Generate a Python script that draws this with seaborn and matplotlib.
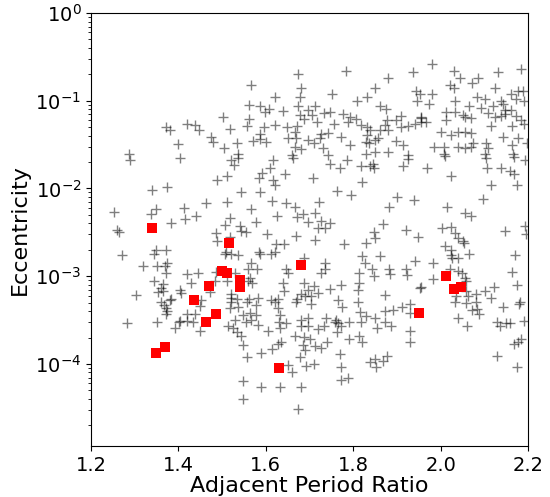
import matplotlib
matplotlib.use("Agg")
import matplotlib.pyplot as plt
import seaborn as sns

# ---- gray crosses: adjacent period ratio / eccentricity ----
gray_ratio = [
    1.371, 1.381, 1.419, 1.437, 1.448, 1.398, 1.288,
    1.673, 1.567, 1.680, 1.679, 1.621, 1.562, 1.587, 1.674, 1.608, 1.597,
    1.640, 1.697, 1.678, 1.687, 1.502, 1.562, 1.622, 1.558, 1.595, 1.648,
    1.672, 1.518, 1.586, 1.666, 1.474, 1.479, 1.651, 1.670, 1.697, 1.571,
    1.587, 1.601, 1.535, 1.504, 1.666, 1.681, 1.536, 1.661,
    1.784, 1.880, 1.937, 1.850, 1.752, 1.809, 1.832, 1.943, 1.947, 1.713,
    1.706, 1.733, 1.748, 1.716, 1.755, 1.777, 1.792, 1.806, 1.788, 1.817,
    1.832, 1.838, 1.862, 1.876, 1.878, 1.899, 1.910, 1.873, 1.880, 1.909,
    1.925, 1.941, 1.954, 1.861, 1.727, 1.742, 1.725, 1.771, 1.710, 1.832,
    1.830, 1.849, 1.857, 1.792, 1.836, 1.899, 1.914, 1.731, 1.742, 1.830,
    1.849, 1.880, 1.925,
    1.980, 2.030, 2.131, 2.183, 2.044, 2.085, 2.021, 2.031, 2.072, 2.124,
    1.952, 1.980, 1.973, 2.034, 2.083, 2.101, 2.065, 2.093, 2.120, 2.139,
    2.143, 2.148, 2.148, 2.160, 2.177, 2.188, 2.191, 2.173, 2.108, 2.124,
    2.139, 2.162, 2.173, 2.183, 2.191, 2.013, 2.013, 2.032, 2.051, 2.055,
    2.070, 1.956, 1.954, 1.967, 2.115, 2.163, 2.001, 2.024, 2.040, 2.055,
    2.069, 2.143, 2.177, 1.986, 2.007, 2.008, 2.040, 2.055, 2.069, 2.074,
    2.104, 2.108, 2.101, 2.163, 2.166, 2.197,
    1.289, 1.404, 1.340, 1.375, 1.253, 1.338, 1.348, 1.413, 1.414, 1.440,
    1.382, 1.259, 1.263, 1.348, 1.344, 1.372, 1.272, 1.319, 1.351, 1.369,
    1.375, 1.372, 1.420, 1.445, 1.343, 1.365, 1.429, 1.359, 1.353, 1.365,
    1.403, 1.407, 1.304, 1.382,
    1.521, 1.536, 1.527, 1.616, 1.662, 1.609, 1.592, 1.584, 1.645, 1.489,
    1.512, 1.616, 1.620, 1.544, 1.586, 1.462, 1.511, 1.614, 1.647, 1.666,
    1.567, 1.625, 1.672, 1.685, 1.697, 1.517, 1.506, 1.540, 1.577, 1.544,
    1.554, 1.487, 1.603, 1.670, 1.488, 1.519, 1.623, 1.642, 1.510, 1.520,
    1.506, 1.536, 1.584, 1.586, 1.613, 1.620, 1.567, 1.559, 1.580, 1.487,
    1.529, 1.484, 1.512, 1.563, 1.568, 1.559, 1.647, 1.651, 1.687, 1.639,
    1.642, 1.687, 1.697, 1.681, 1.473, 1.521, 1.535, 1.520, 1.562, 1.582,
    1.613, 1.628, 1.672, 1.690, 1.452,
    1.748, 1.786, 1.769, 1.817, 1.838, 1.847, 1.845, 1.914, 1.925, 1.708,
    1.820, 1.764, 1.794, 1.721, 1.712, 1.727, 1.748, 1.719, 1.735, 1.713,
    1.780, 1.829, 1.848, 1.851, 1.868, 1.881, 1.901, 1.939, 1.920, 1.948,
    1.736, 1.735, 1.727, 1.821, 1.826, 1.813, 1.843, 1.848, 1.862, 1.881,
    1.885, 1.921, 1.924, 1.941, 1.813, 1.811, 1.773, 1.746, 1.710, 1.719,
    1.703, 1.765, 1.811, 1.873, 1.952,
    2.009, 2.104, 2.167, 2.194, 1.969, 2.023, 2.107, 2.139, 2.158, 2.169,
    2.175, 2.115, 2.097, 2.015, 2.055, 2.070, 2.003, 2.023, 2.034, 2.040,
    2.051, 2.053, 2.148, 2.194, 2.196, 2.009, 2.023, 2.024, 2.040, 2.027,
    2.064, 1.982, 2.171, 2.021, 2.040, 2.049, 2.055, 1.982, 2.164, 1.956,
    2.059, 2.059, 2.063, 2.082, 2.101, 2.122, 2.175, 2.116, 2.036, 2.032,
    2.082, 2.181,
    1.361, 1.367, 1.372, 1.375, 1.371, 1.380, 1.283, 1.351, 1.393, 1.401,
    1.403, 1.420, 1.420, 1.437, 1.433, 1.449, 1.450,
    1.521, 1.536, 1.517, 1.558, 1.578, 1.620, 1.628, 1.668, 1.548, 1.563,
    1.578, 1.565, 1.555, 1.529, 1.582, 1.513, 1.525, 1.535, 1.543, 1.548,
    1.557, 1.605, 1.630, 1.647, 1.632, 1.632, 1.681, 1.697, 1.680, 1.697,
    1.666, 1.687, 1.700, 1.685, 1.689, 1.678, 1.635, 1.628, 1.615, 1.590,
    1.651, 1.660, 1.693, 1.548, 1.590, 1.632, 1.681, 1.548, 1.674,
    1.704, 1.775, 1.816, 1.830, 1.849, 1.873, 1.891, 1.912, 1.931, 1.931,
    1.738, 1.733, 1.719, 1.761, 1.758, 1.765, 1.773, 1.764, 1.790, 1.817,
    1.854, 1.873, 1.887, 1.929, 1.931, 1.740, 1.713, 1.727, 1.790, 1.813,
    1.820, 1.769, 1.710, 1.771, 1.773, 1.788, 1.839, 1.851, 1.853, 1.868,
    1.878,
    2.057, 2.143, 2.179, 2.072, 2.083, 2.089, 2.040, 2.060, 2.129, 2.135,
    2.150, 2.159, 2.191, 2.169, 2.177, 2.185, 2.129, 2.175,
]

gray_ecc = [
    5.0e-2, 4.7e-2, 5.5e-2, 5.3e-2, 4.6e-2, 3.2e-2, 2.5e-2,
    0.20, 0.15, 0.14, 0.11, 0.11, 8.9e-2, 8.7e-2, 8.8e-2, 8.1e-2, 7.4e-2,
    7.7e-2, 7.8e-2, 6.8e-2, 6.2e-2, 6.6e-2, 6.2e-2, 5.3e-2, 5.1e-2, 5.0e-2, 5.0e-2,
    5.2e-2, 4.8e-2, 4.2e-2, 4.4e-2, 3.9e-2, 3.4e-2, 3.8e-2, 3.8e-2, 3.6e-2, 3.5e-2,
    3.7e-2, 3.4e-2, 3.3e-2, 2.9e-2, 3.0e-2, 2.8e-2, 2.5e-2, 2.4e-2,
    0.22, 0.18, 0.21, 0.14, 0.12, 0.10, 0.11, 0.13, 0.10, 8.6e-2,
    6.9e-2, 7.2e-2, 7.4e-2, 5.8e-2, 5.5e-2, 7.1e-2, 6.6e-2, 6.2e-2, 5.8e-2, 5.3e-2,
    5.0e-2, 4.7e-2, 8.6e-2, 8.0e-2, 6.1e-2, 6.1e-2, 6.7e-2, 5.3e-2, 4.7e-2, 5.0e-2,
    5.1e-2, 5.4e-2, 6.3e-2, 4.6e-2, 4.2e-2, 4.3e-2, 3.8e-2, 3.9e-2, 3.3e-2, 4.1e-2,
    3.4e-2, 3.6e-2, 3.8e-2, 3.1e-2, 3.3e-2, 3.5e-2, 3.1e-2, 2.9e-2, 2.4e-2, 2.5e-2,
    2.6e-2, 2.6e-2, 2.4e-2,
    0.26, 0.22, 0.21, 0.23, 0.18, 0.18, 0.15, 0.14, 0.16, 0.14,
    0.12, 0.12, 9.3e-2, 0.10, 0.11, 0.105, 8.8e-2, 8.2e-2, 8.7e-2, 0.10,
    9.3e-2, 7.8e-2, 7.1e-2, 0.12, 0.13, 0.13, 0.10, 0.104, 7.2e-2, 6.6e-2,
    6.7e-2, 7.8e-2, 6.7e-2, 6.1e-2, 5.5e-2, 7.4e-2, 6.1e-2, 7.5e-2, 6.9e-2, 6.5e-2,
    6.3e-2, 6.6e-2, 5.7e-2, 5.8e-2, 5.1e-2, 5.2e-2, 4.4e-2, 4.1e-2, 4.4e-2, 4.4e-2,
    4.3e-2, 3.9e-2, 3.8e-2, 3.0e-2, 3.0e-2, 2.5e-2, 3.0e-2, 2.9e-2, 3.0e-2, 3.3e-2,
    3.3e-2, 2.9e-2, 2.5e-2, 3.1e-2, 2.5e-2, 3.3e-2,
    2.1e-2, 2.2e-2, 9.6e-3, 1.05e-2, 5.4e-3, 5.1e-3, 5.8e-3, 6.0e-3, 4.5e-3, 4.9e-3,
    4.0e-3, 3.4e-3, 3.2e-3, 2.0e-3, 1.8e-3, 2.0e-3, 1.75e-3, 1.3e-3, 1.3e-3, 1.3e-3,
    1.4e-3, 1.1e-3, 1.06e-3, 1.08e-3, 8.8e-4, 8.1e-4, 8.3e-4, 7.3e-4, 6.6e-4, 6.8e-4,
    7.0e-4, 6.5e-4, 6.1e-4, 5.5e-4,
    2.1e-2, 2.2e-2, 1.85e-2, 2.1e-2, 2.2e-2, 1.7e-2, 1.5e-2, 1.3e-2, 1.45e-2, 1.25e-2,
    1.4e-2, 1.25e-2, 1.1e-2, 9.0e-3, 9.0e-3, 6.9e-3, 7.0e-3, 7.2e-3, 6.8e-3, 6.2e-3,
    5.8e-3, 4.9e-3, 4.7e-3, 5.1e-3, 4.2e-3, 4.6e-3, 3.8e-3, 3.7e-3, 4.1e-3, 3.3e-3,
    3.2e-3, 3.1e-3, 3.0e-3, 2.9e-3, 2.5e-3, 2.8e-3, 2.3e-3, 2.3e-3, 1.9e-3, 1.8e-3,
    1.8e-3, 1.75e-3, 1.9e-3, 1.8e-3, 1.8e-3, 1.9e-3, 1.4e-3, 1.2e-3, 1.2e-3, 1.13e-3,
    1.08e-3, 8.8e-4, 8.8e-4, 9.5e-4, 8.3e-4, 8.8e-4, 1.2e-3, 1.1e-3, 1.6e-3, 8.4e-4,
    6.7e-4, 8.4e-4, 7.0e-4, 6.2e-4, 6.6e-4, 6.2e-4, 5.5e-4, 5.6e-4, 5.5e-4, 5.7e-4,
    5.4e-4, 5.5e-4, 5.5e-4, 5.9e-4, 5.4e-4,
    1.9e-2, 2.1e-2, 1.7e-2, 1.8e-2, 1.8e-2, 1.7e-2, 1.9e-2, 1.8e-2, 2.15e-2, 1.3e-2,
    1.2e-2, 9.4e-3, 8.4e-3, 7.1e-3, 5.2e-3, 4.3e-3, 4.0e-3, 3.5e-3, 3.5e-3, 2.6e-3,
    2.3e-3, 2.4e-3, 3.2e-3, 2.7e-3, 3.9e-3, 6.1e-3, 7.9e-3, 7.3e-3, 3.4e-3, 2.8e-3,
    1.4e-3, 1.2e-3, 1.08e-3, 1.7e-3, 1.4e-3, 1.1e-3, 1.2e-3, 1.0e-3, 1.7e-3, 1.2e-3,
    1.06e-3, 1.2e-3, 1.03e-3, 1.5e-3, 8.3e-4, 7.0e-4, 8.0e-4, 7.2e-4, 7.8e-4, 6.4e-4,
    5.9e-4, 5.3e-4, 5.1e-4, 6.1e-4, 7.4e-4,
    2.35e-2, 2.2e-2, 2.3e-2, 2.1e-2, 1.7e-2, 1.4e-2, 1.7e-2, 1.7e-2, 1.6e-2, 1.45e-2,
    1.1e-2, 1.1e-2, 7.5e-3, 6.2e-3, 5.2e-3, 4.9e-3, 3.5e-3, 3.6e-3, 3.1e-3, 2.7e-3,
    2.5e-3, 2.4e-3, 3.3e-3, 3.7e-3, 3.0e-3, 2.2e-3, 2.0e-3, 1.75e-3, 1.6e-3, 1.6e-3,
    1.8e-3, 1.4e-3, 1.75e-3, 1.2e-3, 1.14e-3, 1.08e-3, 9.5e-4, 9.2e-4, 1.13e-3, 7.5e-4,
    8.8e-4, 6.7e-4, 5.9e-4, 6.2e-4, 6.8e-4, 7.6e-4, 8.0e-4, 5.7e-4, 5.9e-4, 5.1e-4,
    5.1e-4, 5.1e-4,
    5.1e-4, 4.7e-4, 4.3e-4, 4.0e-4, 3.7e-4, 5.4e-4, 2.9e-4, 3.0e-4, 2.6e-4, 3.0e-4,
    3.1e-4, 3.1e-4, 3.7e-4, 3.7e-4, 3.0e-4, 2.4e-4, 4.6e-4,
    5.1e-4, 4.5e-4, 4.3e-4, 5.1e-4, 4.7e-4, 5.1e-4, 4.3e-4, 5.1e-4, 3.6e-4, 3.8e-4,
    3.6e-4, 3.2e-4, 3.0e-4, 3.2e-4, 2.8e-4, 2.7e-4, 2.55e-4, 2.3e-4, 2.1e-4, 1.65e-4,
    1.2e-4, 2.35e-4, 3.0e-4, 2.9e-4, 3.6e-4, 2.6e-4, 3.2e-4, 3.3e-4, 2.7e-4, 2.7e-4,
    2.1e-4, 2.05e-4, 1.9e-4, 1.65e-4, 1.44e-4, 1.2e-4, 1.8e-4, 1.7e-4, 1.47e-4, 1.35e-4,
    9.6e-5, 8.0e-5, 9.5e-5, 6.4e-5, 5.4e-5, 5.4e-5, 5.4e-5, 4.0e-5, 3.1e-5,
    4.8e-4, 4.5e-4, 3.9e-4, 3.5e-4, 3.3e-4, 4.0e-4, 4.1e-4, 4.5e-4, 4.8e-4, 3.8e-4,
    3.3e-4, 2.7e-4, 2.5e-4, 3.2e-4, 3.0e-4, 2.95e-4, 2.7e-4, 2.3e-4, 3.0e-4, 3.0e-4,
    2.6e-4, 3.0e-4, 2.7e-4, 2.4e-4, 1.8e-4, 1.8e-4, 1.6e-4, 1.5e-4, 1.9e-4, 2.1e-4,
    1.8e-4, 1.3e-4, 1.0e-4, 9.3e-5, 6.6e-5, 7.0e-5, 1.06e-4, 1.14e-4, 9.3e-5, 1.08e-4,
    1.24e-4,
    5.0e-4, 4.5e-4, 4.8e-4, 4.1e-4, 4.2e-4, 3.7e-4, 3.3e-4, 2.7e-4, 3.0e-4, 2.7e-4,
    2.9e-4, 2.9e-4, 3.1e-4, 1.7e-4, 1.8e-4, 1.9e-4, 1.24e-4, 9.3e-5,
]

# ---- highlighted red squares ----
red_ratio = [1.340, 1.516, 1.435, 1.500, 1.511, 1.540, 1.540, 1.469, 1.681,
             1.487, 1.462, 1.369, 1.349, 1.630, 1.950, 2.013, 2.031, 2.046]
red_ecc = [3.5e-3, 2.4e-3, 5.4e-4, 1.16e-3, 1.1e-3, 9.1e-4, 7.5e-4, 7.8e-4, 1.34e-3,
           3.7e-4, 3.0e-4, 1.57e-4, 1.35e-4, 9.1e-5, 3.8e-4, 1.0e-3, 7.2e-4, 7.5e-4]

x_ticks = [1.2, 1.4, 1.6, 1.8, 2.0, 2.2]
x_label = "Adjacent Period Ratio"
y_label = "Eccentricity"

assert len(gray_ratio) == len(gray_ecc)
assert len(red_ratio) == len(red_ecc)

fig = plt.figure(figsize=(5.5, 4.97), dpi=100)
ax = fig.add_axes([0.1655, 0.1026, 0.7945, 0.8712])

sns.scatterplot(x=gray_ratio, y=gray_ecc, marker="+", color="black", alpha=0.5,
                s=45, linewidth=1.0, ax=ax, legend=False, zorder=2)
sns.scatterplot(x=red_ratio, y=red_ecc, marker="s", color="red", s=55,
                linewidth=0, ax=ax, legend=False, zorder=3)

ax.set_yscale("log")
ax.set_xlim(1.2, 2.2)
ax.set_ylim(1.16e-5, 1.0)
ax.set_xticks(x_ticks)
ax.set_xticklabels([f"{t:.1f}" for t in x_ticks])
ax.set_xlabel(x_label, fontsize=16, labelpad=1)
ax.set_ylabel(y_label, fontsize=16)
ax.tick_params(axis="both", which="major", labelsize=14)

fig.savefig("out.png", dpi=100)
